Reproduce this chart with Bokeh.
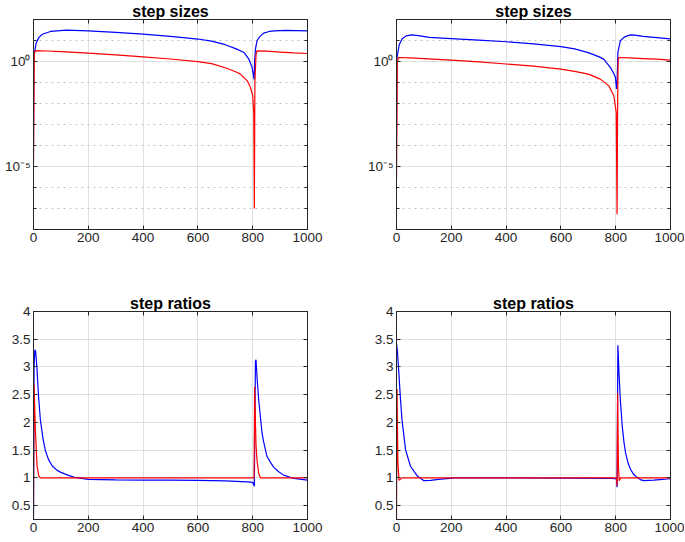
from bokeh.plotting import figure
from bokeh.layouts import column, row
from bokeh.models import FixedTicker, CustomJSTickFormatter, LinearAxis, LogAxis, Range1d
from bokeh.embed import file_html
from bokeh.resources import INLINE

# ---------------- data ----------------
# step sizes, left panel (values given as powers of ten)
tl_blue_x = [0, 1, 4, 10, 20, 32, 62, 120, 200, 300, 400, 500, 600, 650, 700, 740, 768, 786, 798, 802,
             805, 807, 810, 816, 825, 840, 860, 880, 920, 1000]
tl_blue_exp = [-4.0, 0.1, 0.45, 0.9, 1.15, 1.3, 1.43, 1.49, 1.46, 1.39, 1.3, 1.2, 1.07, 0.97, 0.8, 0.6, 0.43, 0.11, -0.29, -0.6,
               -0.85, 0.0, 0.59, 0.99, 1.17, 1.35, 1.43, 1.46, 1.48, 1.46]
tl_red_x = [0, 3, 8, 50, 100, 200, 300, 400, 500, 600, 650, 700, 740, 755, 780, 792, 800, 804, 806, 808,
            812, 815, 850, 900, 950, 1000]
tl_red_exp = [-4.8, 0.4, 0.52, 0.5, 0.47, 0.4, 0.32, 0.22, 0.12, -0.01, -0.1, -0.3, -0.5, -0.6, -0.92, -1.24, -1.63, -2.5, -7.0, -1.0,
              0.3, 0.51, 0.49, 0.45, 0.41, 0.38]

# step sizes, right panel
tr_blue_x = [0, 1, 5, 10, 20, 35, 55, 80, 120, 200, 300, 400, 500, 600, 650, 700, 740, 757, 781, 792,
             799, 803, 805, 808, 817, 830, 842, 855, 870, 900, 950, 1000]
tr_blue_exp = [-3.5, 0.1, 0.43, 0.8, 1.07, 1.22, 1.27, 1.23, 1.15, 1.09, 1.02, 0.94, 0.84, 0.71, 0.6, 0.42, 0.22, 0.1, -0.29, -0.55,
               -0.76, -1.31, -1.0, 0.43, 0.99, 1.15, 1.22, 1.27, 1.26, 1.2, 1.14, 1.08]
tr_red_x = [0, 3, 7, 50, 200, 300, 400, 500, 600, 650, 700, 744, 775, 793, 802, 805, 807, 809, 811, 850,
            900, 950, 1000]
tr_red_exp = [-5.6, 0.0, 0.19, 0.17, 0.07, -0.02, -0.12, -0.22, -0.36, -0.47, -0.6, -0.84, -1.16, -1.63, -2.43, -7.27, -2.0, 0.0, 0.19, 0.17,
              0.14, 0.11, 0.07]

# step ratios, left panel
bl_blue_x = [0, 2, 5, 8, 13, 18, 25, 35, 44, 55, 68, 85, 100, 125, 150, 200, 300, 400, 500, 600,
             700, 780, 800, 806, 808, 810, 812, 816, 822, 834, 840, 852, 865, 877, 895, 913, 950, 1000]
bl_blue = [0.27, 3.0, 3.31, 3.28, 2.95, 2.5, 2.05, 1.7, 1.48, 1.33, 1.22, 1.14, 1.1, 1.05, 1.01, 0.975, 0.965, 0.96, 0.96, 0.955,
           0.945, 0.93, 0.92, 0.85, 2.0, 3.1, 3.13, 2.8, 2.4, 1.81, 1.65, 1.39, 1.28, 1.19, 1.11, 1.05, 0.99, 0.96]
bl_red_x = [0, 2, 7, 13, 19, 25, 500, 805, 807, 812, 816, 822, 828, 1000]
bl_red = [0.45, 2.68, 1.85, 1.21, 1.04, 1.0, 1.0, 1.0, 2.64, 1.6, 1.3, 1.08, 1.0, 1.0]

# step ratios, right panel
br_blue_x = [0, 3, 8, 14, 20, 33, 51, 75, 100, 125, 153, 214, 400, 600, 780, 800, 803, 805, 808, 812,
             817, 824, 830, 836, 845, 854, 866, 878, 890, 902, 920, 939, 960, 988, 1000]
br_blue = [3.42, 3.3, 2.94, 2.46, 2.05, 1.51, 1.21, 1.04, 0.95, 0.955, 0.975, 1.0, 1.0, 0.995, 0.99, 0.985, 0.97, 0.83, 3.39, 2.9,
           2.4, 1.93, 1.65, 1.45, 1.27, 1.155, 1.06, 1.01, 0.97, 0.95, 0.955, 0.96, 0.97, 0.98, 0.985]
br_red_x = [0, 2, 5, 9, 13, 20, 500, 803, 805, 807, 810, 813, 818, 1000]
br_red = [0.25, 2.6, 1.3, 0.96, 0.97, 1.0, 1.0, 1.0, 0.86, 2.52, 1.2, 0.95, 1.0, 1.0]

# ticks and labels
x_ticks = [0, 200, 400, 600, 800, 1000]
x_labels = ["0", "200", "400", "600", "800", "1000"]
log_ticks = [1e-5, 1e0]
log_labels = ["10\u207b\u2075", "10\u2070"]
log_minor = [1e-8, 1e-7, 1e-6, 1e-4, 1e-3, 1e-2, 1e-1, 1e1, 1e2]
ratio_ticks = [0.5, 1, 1.5, 2, 2.5, 3, 3.5, 4]
ratio_labels = ["0.5", "1", "1.5", "2", "2.5", "3", "3.5", "4"]

titles = ["step sizes", "step sizes", "step ratios", "step ratios"]

# ---------------- styling ----------------
FONT = "Liberation Sans"
AX = "#262626"
GRID = "#e0e0e0"
MINOR = "#c2c2c2"
BLUE = "#0000ff"
RED = "#ff0000"


def fmt(vals, labs):
    return CustomJSTickFormatter(args=dict(vals=vals, labs=labs), code="""
        for (let i = 0; i < vals.length; i++) {
            if (Math.abs(tick - vals[i]) <= 1e-9 * Math.abs(vals[i]) + 1e-12) { return labs[i]; }
        }
        return '';
    """)


def blank():
    return CustomJSTickFormatter(code="return '';")


def style_axis(ax, labelled):
    ax.axis_line_color = AX
    ax.axis_line_width = 1
    ax.major_tick_line_color = AX
    ax.major_tick_in = 4
    ax.major_tick_out = 0
    ax.minor_tick_line_color = AX
    ax.minor_tick_in = 3
    ax.minor_tick_out = 0
    ax.major_label_text_font = FONT
    ax.major_label_text_color = AX
    if labelled:
        ax.major_label_text_font_size = "13.5px"
        ax.major_label_standoff = 3
    else:
        ax.major_label_text_font_size = "0px"
        ax.major_label_standoff = 0


def make_fig(title, log, width, height, bl, br, bt, bb):
    kw = dict(width=width, height=height, output_backend="svg", toolbar_location=None,
              x_range=Range1d(0, 1000),
              min_border_left=bl, min_border_right=br, min_border_top=bt, min_border_bottom=bb)
    if log:
        kw.update(y_axis_type="log", y_range=Range1d(1e-8, 1e2))
    else:
        kw.update(y_range=Range1d(0.25, 4))
    p = figure(**kw)
    p.title.text = title
    p.title.align = "center"
    p.title.text_font = FONT
    p.title.text_font_size = "16px"
    p.title.text_font_style = "bold"
    p.title.text_color = "#000000"
    p.title.standoff = 0
    p.outline_line_color = AX
    p.outline_line_width = 1
    p.outline_line_alpha = 1
    p.background_fill_color = "white"
    p.border_fill_color = "white"

    xt = FixedTicker(ticks=x_ticks)
    if log:
        yt = FixedTicker(ticks=log_ticks, minor_ticks=log_minor)
        yf = fmt(log_ticks, log_labels)
    else:
        yt = FixedTicker(ticks=ratio_ticks)
        yf = fmt(ratio_ticks, ratio_labels)

    p.xaxis.ticker = xt
    p.xaxis.formatter = fmt(x_ticks, x_labels)
    p.yaxis.ticker = yt
    p.yaxis.formatter = yf
    for ax in p.xaxis:
        style_axis(ax, True)
        ax.minor_tick_line_color = None
    for ax in p.yaxis:
        style_axis(ax, True)

    top = LinearAxis(ticker=xt, formatter=blank())
    style_axis(top, False)
    top.minor_tick_line_color = None
    p.add_layout(top, "above")
    if log:
        right = LogAxis(ticker=yt, formatter=blank())
    else:
        right = LinearAxis(ticker=yt, formatter=blank())
    style_axis(right, False)
    p.add_layout(right, "right")

    p.xgrid.ticker = xt
    p.ygrid.ticker = yt
    p.xgrid.grid_line_color = GRID
    p.ygrid.grid_line_color = GRID
    p.xgrid.grid_line_width = 1
    p.ygrid.grid_line_width = 1
    if log:
        p.ygrid.minor_grid_line_color = MINOR
        p.ygrid.minor_grid_line_dash = "2 4"
        p.ygrid.minor_grid_line_width = 1
    return p


W1, W2 = 350, 334
H1, H2 = 270, 268

p1 = make_fig(titles[0], True, W1, H1, 33, 43, 18, 41)
p2 = make_fig(titles[1], True, W2, H1, 46, 14, 18, 41)
p3 = make_fig(titles[2], False, W1, H2, 33, 43, 41, 19)
p4 = make_fig(titles[3], False, W2, H2, 46, 14, 41, 19)

p1.line(tl_blue_x, [10 ** e for e in tl_blue_exp], line_color=BLUE, line_width=1.2)
p1.line(tl_red_x, [10 ** e for e in tl_red_exp], line_color=RED, line_width=1.2)
p2.line(tr_blue_x, [10 ** e for e in tr_blue_exp], line_color=BLUE, line_width=1.2)
p2.line(tr_red_x, [10 ** e for e in tr_red_exp], line_color=RED, line_width=1.2)
p3.line(bl_blue_x, bl_blue, line_color=BLUE, line_width=1.2)
p3.line(bl_red_x, bl_red, line_color=RED, line_width=1.2)
p4.line(br_blue_x, br_blue, line_color=BLUE, line_width=1.2)
p4.line(br_red_x, br_red, line_color=RED, line_width=1.2)

layout = column(row(p1, p2), row(p3, p4))

open("out.html", "w").write(file_html(layout, INLINE))
